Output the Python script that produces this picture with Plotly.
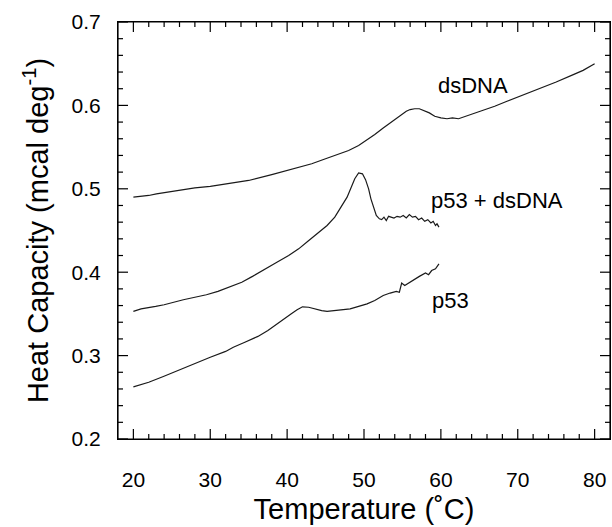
import plotly.graph_objects as go

# ---- data ----
ds_x = [20, 22, 23, 25, 28, 30, 33, 35, 38, 40, 42, 43.2, 45, 46.5, 48, 49.3, 50.5, 51.4, 52.5, 53.4,
        54.2, 54.9, 55.5, 56.0, 56.6, 57.2, 57.8, 58.5, 59.2, 60.0, 60.8, 61.5, 62.3, 63.6, 65, 67,
        68.6, 70, 72, 73.7, 75, 77, 78.5, 80]
ds_y = [0.490, 0.492, 0.494, 0.497, 0.501, 0.503, 0.507, 0.510, 0.517, 0.522, 0.527, 0.530, 0.536,
        0.541, 0.546, 0.552, 0.559, 0.565, 0.573, 0.579, 0.585, 0.590, 0.593, 0.595, 0.596, 0.596,
        0.594, 0.591, 0.587, 0.585, 0.584, 0.585, 0.584, 0.588, 0.593, 0.599, 0.605, 0.610, 0.617,
        0.623, 0.628, 0.636, 0.642, 0.650]

pd_x = [20, 21, 22.9, 24, 26.5, 28, 29.5, 31, 32.5, 34.1, 35.5, 37.1, 38.5, 40.2, 41.5, 42.7, 44,
        45.2, 46.2, 46.9, 47.8, 48.3, 48.8, 49.3, 49.8, 50.2, 50.6, 50.9, 51.3, 51.6, 52.0, 52.3,
        52.6, 52.9, 53.2, 53.5, 53.9, 54.3, 54.7, 55.1, 55.5, 55.9, 56.3, 56.7, 57.1, 57.5, 57.9,
        58.3, 58.7, 59.0, 59.3, 59.5, 59.75]
pd_y = [0.353, 0.356, 0.359, 0.361, 0.367, 0.370, 0.373, 0.377, 0.382, 0.388, 0.395, 0.404, 0.411,
        0.420, 0.428, 0.437, 0.447, 0.456, 0.466, 0.476, 0.490, 0.501, 0.512, 0.519, 0.518, 0.511,
        0.500, 0.488, 0.476, 0.468, 0.464, 0.463, 0.466, 0.462, 0.467, 0.466, 0.465, 0.467, 0.466,
        0.468, 0.465, 0.469, 0.466, 0.467, 0.463, 0.465, 0.461, 0.463, 0.459, 0.461, 0.456, 0.458,
        0.454]

p_x = [20, 22, 23.9, 26, 28, 30, 32, 33, 34.5, 35.5, 36.2, 37.5, 38.5, 39.5, 40.5, 41.3, 42.0,
       42.8, 43.5, 44.5, 45.2, 46.5, 48.2, 49.3, 50.4, 51.4, 52.5, 53.4, 54.2, 54.6, 54.9, 55.3,
       55.8, 56.5, 57.2, 58.0, 58.4, 58.8, 59.3, 59.75]
p_y = [0.2625, 0.268, 0.275, 0.283, 0.291, 0.298, 0.305, 0.310, 0.316, 0.320, 0.323, 0.330, 0.337,
       0.344, 0.350, 0.355, 0.3585, 0.358, 0.356, 0.354, 0.353, 0.354, 0.356, 0.359, 0.362, 0.366,
       0.372, 0.375, 0.377, 0.376, 0.387, 0.384, 0.387, 0.391, 0.395, 0.399, 0.397, 0.402, 0.404,
       0.410]

labels = ["dsDNA", "p53 + dsDNA", "p53"]
label_x = [64.2, 67.3, 61.2]
label_y = [0.624, 0.4856, 0.3666]

# axis ranges and tick positions
X_RANGE = [18, 82]
Y_RANGE = [0.2, 0.7]
x_major = [20, 30, 40, 50, 60, 70, 80]
y_major = [0.2, 0.3, 0.4, 0.5, 0.6, 0.7]
x_minor = [v for v in range(20, 82, 2) if v not in x_major]
y_minor = [round(0.2 + 0.02 * i, 2) for i in range(1, 25) if i % 5 != 0]

FONT = "Liberation Sans, Arial, Helvetica, sans-serif"
LINE = dict(color="#1a1a1a", width=1.2)

fig = go.Figure()
for xs, ys, name in [(ds_x, ds_y, "dsDNA"), (pd_x, pd_y, "p53 + dsDNA"), (p_x, p_y, "p53")]:
    fig.add_trace(go.Scatter(x=xs, y=ys, mode="lines", line=LINE, name=name, showlegend=False,
                             hoverinfo="skip"))

# inside tick marks on all four sides (lengths in axis units: 10 px major, 5 px minor)
x_span = X_RANGE[1] - X_RANGE[0]
y_span = Y_RANGE[1] - Y_RANGE[0]
XL_MAJ, XL_MIN = x_span * 10 / 492, x_span * 5 / 492
YL_MAJ, YL_MIN = y_span * 10 / 417, y_span * 5 / 417
tx, ty = [], []
for vals, ln in [(x_major, YL_MAJ), (x_minor, YL_MIN)]:
    for v in vals:
        tx += [v, v, None, v, v, None]
        ty += [Y_RANGE[0], Y_RANGE[0] + ln, None, Y_RANGE[1], Y_RANGE[1] - ln, None]
for vals, ln in [(y_major, XL_MAJ), (y_minor, XL_MIN)]:
    for v in vals:
        tx += [X_RANGE[0], X_RANGE[0] + ln, None, X_RANGE[1], X_RANGE[1] - ln, None]
        ty += [v, v, None, v, v, None]
fig.add_trace(go.Scatter(x=tx, y=ty, mode="lines", line=dict(color="black", width=1.2),
                         showlegend=False, hoverinfo="skip", cliponaxis=False,
                         connectgaps=False))

# plot frame
fig.add_trace(go.Scatter(
    x=[X_RANGE[0], X_RANGE[1], X_RANGE[1], X_RANGE[0], X_RANGE[0]],
    y=[Y_RANGE[0], Y_RANGE[0], Y_RANGE[1], Y_RANGE[1], Y_RANGE[0]],
    mode="lines", line=dict(color="black", width=1.2),
    showlegend=False, hoverinfo="skip", cliponaxis=False))

for t, x, y in zip(labels, label_x, label_y):
    fig.add_annotation(x=x, y=y, text=t, showarrow=False,
                       font=dict(family=FONT, size=22, color="black"))

axis_common = dict(
    showline=True, linecolor="black", linewidth=1.2, mirror=True,
    ticks="", showgrid=False, zeroline=False,
)

fig.update_layout(
    width=612, height=527,
    margin=dict(l=118, r=2, t=22, b=88, autoexpand=False),
    paper_bgcolor="white", plot_bgcolor="white",
    font=dict(family=FONT, color="black"),
    xaxis=dict(
        range=X_RANGE, tickmode="array", tickvals=x_major,
        ticktext=[str(v) for v in x_major],
        tickfont=dict(family=FONT, size=21, color="black"),
        title=dict(text="Temperature (˚C)", font=dict(family=FONT, size=29, color="black"),
                   standoff=8),
        ticklabelstandoff=22,
        **axis_common,
    ),
    yaxis=dict(
        range=Y_RANGE, tickmode="array", tickvals=y_major,
        ticktext=["%.1f" % v for v in y_major],
        tickfont=dict(family=FONT, size=21, color="black"),
        title=dict(text="Heat Capacity (mcal deg<sup>-1</sup>)",
                   font=dict(family=FONT, size=29, color="black"), standoff=14),
        ticklabelstandoff=12,
        **axis_common,
    ),
)

fig.write_html(
    "out.html",
    config={"displayModeBar": False},
    post_script="document.body.style.margin='0';document.body.style.padding='0';",
)
